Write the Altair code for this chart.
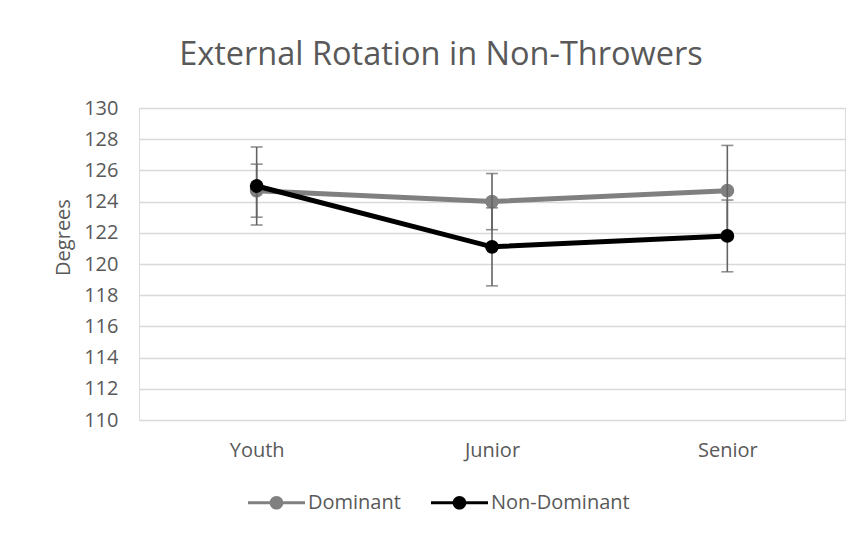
import altair as alt
import pandas as pd

categories = ["Youth", "Junior", "Senior"]
series_names = ["Dominant", "Non-Dominant"]
dominant = [124.7, 124.0, 124.7]
dominant_err = [1.7, 1.8, 2.9]
non_dominant = [125.0, 121.1, 121.8]
non_dominant_err = [2.5, 2.5, 2.3]
y_ticks = [110, 112, 114, 116, 118, 120, 122, 124, 126, 128, 130]

rows = []
for name, vals, errs in [("Dominant", dominant, dominant_err), ("Non-Dominant", non_dominant, non_dominant_err)]:
    for c, v, e in zip(categories, vals, errs):
        rows.append({"cat": c, "series": name, "value": v, "lo": v - e, "hi": v + e})
df = pd.DataFrame(rows)

FONT = "Open Sans"
TXT = "#595959"

legend_path = ("M -1 -0.05 L 1 -0.05 L 1 0.05 L -1 0.05 Z "
               "M -0.24 0 A 0.24 0.24 0 1 1 0.24 0 A 0.24 0.24 0 1 1 -0.24 0 Z")

color = alt.Color(
    "series:N",
    scale=alt.Scale(domain=series_names, range=["#808080", "#000000"]),
    legend=alt.Legend(
        title=None, orient="none", direction="horizontal",
        legendX=109, legendY=366, symbolType=legend_path, symbolSize=3249,
        symbolStrokeWidth=0, labelFont=FONT, labelFontSize=20, labelColor=TXT,
        labelOffset=3, columnPadding=30, padding=0,
    ),
)

x = alt.X("cat:N", sort=categories, scale=alt.Scale(type="point", padding=0.5),
          axis=alt.Axis(title=None, labelAngle=0, domain=False, ticks=False,
                        labelPadding=20, labelFont=FONT, labelFontSize=20, labelColor=TXT))
y_scale = alt.Scale(domain=[110, 130], nice=False, zero=False)
y_axis = alt.Axis(values=y_ticks, tickCount=11, title="Degrees", domain=False, ticks=False,
                  grid=True, gridColor="#d9d9d9", gridWidth=1.4, labelOverlap=False,
                  labelPadding=21, labelFont=FONT, labelFontSize=20, labelColor=TXT,
                  titleFont=FONT, titleFontSize=20, titleColor=TXT, titleFontWeight="normal",
                  titleAngle=-90, titleX=-76, titleY=129, titleAlign="center",
                  titleBaseline="middle")
y = alt.Y("value:Q", scale=y_scale, axis=y_axis)
y_lo = alt.Y("lo:Q", scale=y_scale, axis=y_axis)
y_hi = alt.Y("hi:Q", scale=y_scale, axis=y_axis)

base = alt.Chart(df).encode(x=x)

dom = base.transform_filter(alt.datum.series == "Dominant")
non = base.transform_filter(alt.datum.series == "Non-Dominant")

dom_line = dom.mark_line(strokeWidth=5).encode(y=y, color=color)
dom_pts = dom.mark_point(filled=True, size=190, opacity=1).encode(y=y, color=color)
err_rule = base.mark_rule(color="#636363", strokeWidth=1.6).encode(y=y_lo, y2="hi:Q")
err_lo = base.mark_tick(color="#636363", size=12, thickness=1.6).encode(y=y_lo)
err_hi = base.mark_tick(color="#636363", size=12, thickness=1.6).encode(y=y_hi)
non_line = non.mark_line(strokeWidth=5).encode(y=y, color=color)
non_pts = non.mark_point(filled=True, size=190, opacity=1).encode(y=y, color=color)

chart = alt.layer(dom_line, dom_pts, err_rule, err_lo, err_hi, non_line, non_pts).properties(
    width=706, height=312,
    autosize=alt.AutoSizeParams(type="none"),
    padding={"left": 131, "top": 100, "right": 7, "bottom": 110},
    title=alt.TitleParams("External Rotation in Non-Throwers", font=FONT, fontSize=32.5,
                          fontWeight="normal", color=TXT, anchor="middle", dx=-51,
                          baseline="alphabetic", offset=1),
).configure_view(stroke=None).configure(background="white")

chart.save("out.html", embed_options={"renderer": "svg", "actions": False})
